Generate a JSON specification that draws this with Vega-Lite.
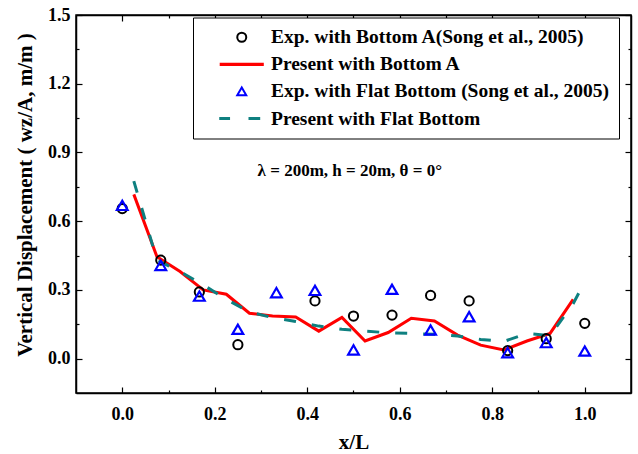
{
  "$schema": "https://vega.github.io/schema/vega-lite/v6.json",
  "width": 555,
  "height": 378,
  "autosize": {"type": "none"},
  "padding": {"left": 76, "top": 15, "right": 7, "bottom": 61},
  "background": "white",
  "config": {
    "view": {"stroke": "black", "strokeWidth": 1.5},
    "font": "Liberation Serif",
    "axis": {
      "grid": false,
      "domainColor": "black",
      "domainWidth": 1.5,
      "tickColor": "black",
      "tickWidth": 1.2,
      "labelFont": "Liberation Serif",
      "labelFontWeight": "bold",
      "labelFontSize": 18,
      "labelColor": "black",
      "labelOverlap": false,
      "labelFlush": false,
      "titleFont": "Liberation Serif",
      "titleFontWeight": "bold",
      "titleFontSize": 21,
      "titleColor": "black"
    },
    "legend": {
      "orient": "none", "legendX": 117, "legendY": 2.5, "title": null,
      "padding": 10, "strokeColor": "black", "fillColor": "white",
      "labelFont": "Liberation Serif", "labelFontSize": 19.5, "labelFontWeight": "bold", "labelColor": "black",
      "labelLimit": 600,
      "symbolSize": 81, "symbolStrokeWidth": 2, "symbolOffset": 29, "labelOffset": 19.5, "rowPadding": 6.1,
      "symbolFillColor": "transparent", "symbolOpacity": 1
    }
  },
  "data": {
    "values": [
      {"series": "Exp. with Bottom A(Song et al., 2005)", "x": 0.0, "y": 0.655},
      {"series": "Exp. with Bottom A(Song et al., 2005)", "x": 0.0833, "y": 0.43},
      {"series": "Exp. with Bottom A(Song et al., 2005)", "x": 0.1667, "y": 0.291},
      {"series": "Exp. with Bottom A(Song et al., 2005)", "x": 0.25, "y": 0.061},
      {"series": "Exp. with Bottom A(Song et al., 2005)", "x": 0.4167, "y": 0.252},
      {"series": "Exp. with Bottom A(Song et al., 2005)", "x": 0.5, "y": 0.186},
      {"series": "Exp. with Bottom A(Song et al., 2005)", "x": 0.5833, "y": 0.19},
      {"series": "Exp. with Bottom A(Song et al., 2005)", "x": 0.6667, "y": 0.276},
      {"series": "Exp. with Bottom A(Song et al., 2005)", "x": 0.75, "y": 0.252},
      {"series": "Exp. with Bottom A(Song et al., 2005)", "x": 0.8333, "y": 0.035},
      {"series": "Exp. with Bottom A(Song et al., 2005)", "x": 0.9167, "y": 0.087},
      {"series": "Exp. with Bottom A(Song et al., 2005)", "x": 1.0, "y": 0.154},

      {"series": "Present with Bottom A", "x": 0.025, "y": 0.717},
      {"series": "Present with Bottom A", "x": 0.075, "y": 0.445},
      {"series": "Present with Bottom A", "x": 0.125, "y": 0.38},
      {"series": "Present with Bottom A", "x": 0.175, "y": 0.30},
      {"series": "Present with Bottom A", "x": 0.225, "y": 0.281},
      {"series": "Present with Bottom A", "x": 0.275, "y": 0.198},
      {"series": "Present with Bottom A", "x": 0.325, "y": 0.186},
      {"series": "Present with Bottom A", "x": 0.375, "y": 0.182},
      {"series": "Present with Bottom A", "x": 0.425, "y": 0.12},
      {"series": "Present with Bottom A", "x": 0.475, "y": 0.18},
      {"series": "Present with Bottom A", "x": 0.525, "y": 0.077},
      {"series": "Present with Bottom A", "x": 0.575, "y": 0.114},
      {"series": "Present with Bottom A", "x": 0.625, "y": 0.176},
      {"series": "Present with Bottom A", "x": 0.675, "y": 0.164},
      {"series": "Present with Bottom A", "x": 0.725, "y": 0.103},
      {"series": "Present with Bottom A", "x": 0.775, "y": 0.059},
      {"series": "Present with Bottom A", "x": 0.825, "y": 0.038},
      {"series": "Present with Bottom A", "x": 0.875, "y": 0.077},
      {"series": "Present with Bottom A", "x": 0.925, "y": 0.11},
      {"series": "Present with Bottom A", "x": 0.975, "y": 0.259},

      {"series": "Exp. with Flat Bottom (Song et al., 2005)", "x": 0.0, "y": 0.669},
      {"series": "Exp. with Flat Bottom (Song et al., 2005)", "x": 0.0833, "y": 0.407},
      {"series": "Exp. with Flat Bottom (Song et al., 2005)", "x": 0.1667, "y": 0.273},
      {"series": "Exp. with Flat Bottom (Song et al., 2005)", "x": 0.25, "y": 0.128},
      {"series": "Exp. with Flat Bottom (Song et al., 2005)", "x": 0.3333, "y": 0.288},
      {"series": "Exp. with Flat Bottom (Song et al., 2005)", "x": 0.4167, "y": 0.298},
      {"series": "Exp. with Flat Bottom (Song et al., 2005)", "x": 0.5, "y": 0.038},
      {"series": "Exp. with Flat Bottom (Song et al., 2005)", "x": 0.5833, "y": 0.303},
      {"series": "Exp. with Flat Bottom (Song et al., 2005)", "x": 0.6667, "y": 0.125},
      {"series": "Exp. with Flat Bottom (Song et al., 2005)", "x": 0.75, "y": 0.183},
      {"series": "Exp. with Flat Bottom (Song et al., 2005)", "x": 0.8333, "y": 0.026},
      {"series": "Exp. with Flat Bottom (Song et al., 2005)", "x": 0.9167, "y": 0.07},
      {"series": "Exp. with Flat Bottom (Song et al., 2005)", "x": 1.0, "y": 0.033},

      {"series": "Present with Flat Bottom", "x": 0.025, "y": 0.775},
      {"series": "Present with Flat Bottom", "x": 0.075, "y": 0.43},
      {"series": "Present with Flat Bottom", "x": 0.125, "y": 0.38},
      {"series": "Present with Flat Bottom", "x": 0.175, "y": 0.322},
      {"series": "Present with Flat Bottom", "x": 0.225, "y": 0.259},
      {"series": "Present with Flat Bottom", "x": 0.275, "y": 0.204},
      {"series": "Present with Flat Bottom", "x": 0.325, "y": 0.179},
      {"series": "Present with Flat Bottom", "x": 0.375, "y": 0.162},
      {"series": "Present with Flat Bottom", "x": 0.425, "y": 0.142},
      {"series": "Present with Flat Bottom", "x": 0.475, "y": 0.128},
      {"series": "Present with Flat Bottom", "x": 0.525, "y": 0.12},
      {"series": "Present with Flat Bottom", "x": 0.575, "y": 0.113},
      {"series": "Present with Flat Bottom", "x": 0.625, "y": 0.11},
      {"series": "Present with Flat Bottom", "x": 0.675, "y": 0.106},
      {"series": "Present with Flat Bottom", "x": 0.725, "y": 0.099},
      {"series": "Present with Flat Bottom", "x": 0.775, "y": 0.084},
      {"series": "Present with Flat Bottom", "x": 0.825, "y": 0.075},
      {"series": "Present with Flat Bottom", "x": 0.875, "y": 0.11},
      {"series": "Present with Flat Bottom", "x": 0.925, "y": 0.10},
      {"series": "Present with Flat Bottom", "x": 0.975, "y": 0.24},
      {"series": "Present with Flat Bottom", "x": 1.0, "y": 0.335}
    ]
  },
  "layer": [
    {
      "transform": [{"filter": "datum.series == 'Present with Bottom A'"}],
      "mark": {"type": "line", "strokeWidth": 3, "clip": true},
      "encoding": {
        "x": {
          "field": "x", "type": "quantitative",
          "scale": {"domain": [-0.1, 1.1], "nice": false, "zero": false},
          "axis": {
            "orient": "bottom", "title": "x/L",
            "values": [0, 0.1, 0.2, 0.3, 0.4, 0.5, 0.6, 0.7, 0.8, 0.9, 1.0],
            "labelExpr": "round(datum.value*10) % 2 == 0 ? format(datum.value, '.1f') : ''",
            "tickSize": {"condition": {"test": "round(datum.value*10) % 2 == 0", "value": -6}, "value": -3},
            "labelPadding": 18,
            "titlePadding": 5
          }
        },
        "y": {
          "field": "y", "type": "quantitative",
          "scale": {"domain": [-0.15, 1.5], "nice": false, "zero": false},
          "axis": {
            "orient": "left", "title": "Vertical Displacement ( wz/A, m/m )",
            "values": [0, 0.15, 0.3, 0.45, 0.6, 0.75, 0.9, 1.05, 1.2, 1.35, 1.5],
            "labelExpr": "abs(round(datum.value/0.15)) % 2 == 0 ? format(datum.value, '.1f') : ''",
            "tickSize": {"condition": {"test": "abs(round(datum.value/0.15)) % 2 == 0", "value": -6}, "value": -3},
            "labelPadding": 12,
            "titlePadding": 12,
            "titleY": 179.5
          }
        },
        "color": {
          "field": "series", "type": "nominal",
          "scale": {
            "domain": ["Exp. with Bottom A(Song et al., 2005)", "Present with Bottom A", "Exp. with Flat Bottom (Song et al., 2005)", "Present with Flat Bottom"],
            "range": ["#000000", "#ff0000", "#0000ff", "#0e8080"]
          }
        }
      }
    },
    {
      "transform": [{"filter": "datum.series == 'Present with Flat Bottom'"}],
      "mark": {"type": "line", "strokeWidth": 3, "strokeDash": [12, 16], "clip": true},
      "encoding": {
        "x": {
          "field": "x", "type": "quantitative",
          "axis": {
            "orient": "top", "title": null, "labels": false,
            "values": [0, 0.1, 0.2, 0.3, 0.4, 0.5, 0.6, 0.7, 0.8, 0.9, 1.0],
            "tickSize": {"condition": {"test": "round(datum.value*10) % 2 == 0", "value": -6}, "value": -3}
          }
        },
        "y": {
          "field": "y", "type": "quantitative",
          "axis": {
            "orient": "right", "title": null, "labels": false,
            "values": [0, 0.15, 0.3, 0.45, 0.6, 0.75, 0.9, 1.05, 1.2, 1.35, 1.5],
            "tickSize": {"condition": {"test": "abs(round(datum.value/0.15)) % 2 == 0", "value": -6}, "value": -3}
          }
        },
        "color": {"field": "series", "type": "nominal"}
      }
    },
    {
      "transform": [{"filter": "datum.series == 'Exp. with Bottom A(Song et al., 2005)'"}],
      "mark": {"type": "point", "filled": false, "strokeWidth": 2, "size": 85, "opacity": 1},
      "encoding": {
        "x": {"field": "x", "type": "quantitative", "axis": null},
        "y": {"field": "y", "type": "quantitative", "axis": null},
        "color": {"field": "series", "type": "nominal"},
        "shape": {
          "field": "series", "type": "nominal",
          "scale": {
            "domain": ["Exp. with Bottom A(Song et al., 2005)", "Present with Bottom A", "Exp. with Flat Bottom (Song et al., 2005)", "Present with Flat Bottom"],
            "range": ["circle", "M-4.9,-0.12H4.9M-4.9,0.12H4.9", "triangle-up", "M-5,-0.12H-2.6M-5,0.12H-2.6M1.5,-0.12H4.1M1.5,0.12H4.1"]
          }
        }
      }
    },
    {
      "transform": [{"filter": "datum.series == 'Exp. with Flat Bottom (Song et al., 2005)'"}],
      "mark": {"type": "point", "filled": false, "strokeWidth": 2.2, "size": 115, "opacity": 1},
      "encoding": {
        "x": {"field": "x", "type": "quantitative", "axis": null},
        "y": {"field": "y", "type": "quantitative", "axis": null},
        "color": {"field": "series", "type": "nominal"},
        "shape": {"field": "series", "type": "nominal"}
      }
    },
    {
      "data": {"values": [{"label": "λ = 200m, h = 20m, θ = 0°"}]},
      "mark": {"type": "text", "font": "Liberation Serif", "fontWeight": "bold", "fontSize": 17, "color": "black", "align": "center", "baseline": "middle"},
      "encoding": {
        "x": {"datum": 0.492, "type": "quantitative", "axis": null},
        "y": {"datum": 0.818, "type": "quantitative", "axis": null},
        "text": {"field": "label", "type": "nominal"}
      }
    }
  ]
}
